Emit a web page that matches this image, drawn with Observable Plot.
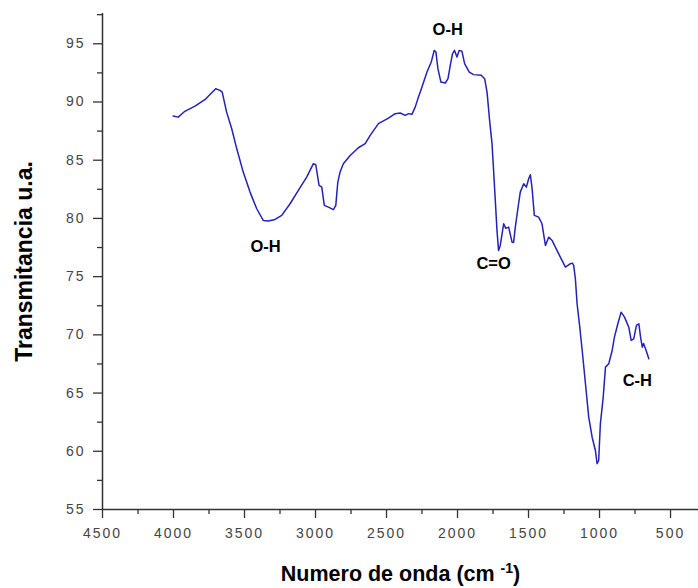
<!DOCTYPE html>
<html>
<head>
<meta charset="utf-8">
<script src="https://cdn.jsdelivr.net/npm/d3@7"></script>
<script src="https://cdn.jsdelivr.net/npm/@observablehq/plot@0.6"></script>
<style>
  html, body { margin: 0; padding: 0; background: white; }
  g[aria-label="x-axis tick label"] text,
  g[aria-label="y-axis tick label"] text { letter-spacing: 2px; }
</style>
</head>
<body>
<div id="chart"></div>
<script>
// Wavenumber (cm^-1) and transmittance (a.u.)
const wavenumber = [4002,3967,3920,3849,3779,3731,3703,3673,3657,3626,3590,3555,3509,3461,3414,3368,3332,3285,3238,3179,3121,3062,3015,2998,2975,2956,2938,2909,2874,2857,2843,2827,2804,2756,2698,2650,2615,2557,2486,2439,2404,2368,2345,2321,2298,2275,2258,2215,2185,2164,2152,2138,2117,2086,2067,2051,2035,2021,2004,1988,1969,1950,1917,1887,1833,1809,1792,1774,1757,1746,1734,1722,1711,1699,1675,1660,1640,1616,1605,1593,1570,1558,1534,1515,1499,1487,1475,1459,1429,1405,1381,1358,1334,1311,1276,1240,1205,1191,1182,1170,1158,1139,1122,1099,1076,1052,1029,1017,1006,994,974,958,935,911,895,871,848,824,794,777,759,740,723,711,699,690,676,653];
const transmittance = [88.8,88.7,89.2,89.65,90.2,90.8,91.14,91.0,90.85,89.13,87.7,86.0,83.98,82.26,80.83,79.83,79.77,79.91,80.26,81.26,82.4,83.55,84.7,84.61,82.84,82.69,81.12,80.97,80.75,81.12,83.12,83.98,84.7,85.41,86.07,86.42,87.13,88.14,88.62,89.0,89.05,88.85,89.0,88.94,89.56,90.42,91.0,92.57,93.43,94.43,94.29,92.86,91.71,91.63,92.0,93.14,94.15,94.43,93.86,94.43,94.37,93.29,92.57,92.35,92.29,92.0,90.85,88.42,86.42,84.12,81.55,78.97,77.25,77.68,79.54,79.14,79.25,77.96,77.94,79.25,81.26,82.26,82.98,82.69,83.41,83.75,82.58,80.26,80.11,79.54,77.68,78.39,78.11,77.53,76.68,75.82,76.11,76.16,75.96,74.82,72.67,70.66,68.66,65.8,62.93,61.21,60.07,58.93,59.21,62.36,64.65,67.23,67.52,68.66,69.8,70.95,71.95,71.52,70.66,69.52,69.66,70.81,70.95,69.8,68.94,69.26,68.8,67.95];

// Band annotations
const bandLabels = ["O-H", "O-H", "C=O", "C-H"];
const bandX = [3352, 2069, 1746, 734];
const bandY = [77.6, 96.24, 76.09, 66.08];

// Tick values
const xMajorTicks = [4500,4000,3500,3000,2500,2000,1500,1000,500];
const xMinorTicks = [4250,3750,3250,2750,2250,1750,1250,750];
const yMajorTicks = [55,60,65,70,75,80,85,90,95];
const yMinorTicks = [57.5,62.5,67.5,72.5,77.5,82.5,87.5,92.5,97.5];

const xTitle = "Numero de onda (cm-1)";
const yTitle = "Transmitancia u.a.";

const spectrum = wavenumber.map((w, i) => ({w, t: transmittance[i]}));
const bands = bandLabels.map((l, i) => ({l, x: bandX[i], y: bandY[i]}));

const axisColor = "#333";
const labelColor = "#444";

const chart = Plot.plot({
  width: 698,
  height: 588,
  marginLeft: 102,
  marginRight: 0,
  marginTop: 13,
  marginBottom: 79,
  style: {fontFamily: "'Liberation Sans', Arial, sans-serif", background: "white", overflow: "visible"},
  x: {domain: [4500, 303], label: null},
  y: {domain: [55, 97.6], label: null},
  marks: [
    Plot.axisX(xMajorTicks, {tickSize: 9, tickPadding: 10, fontSize: 14, fill: labelColor, stroke: axisColor, strokeWidth: 1.3, tickFormat: "d", label: null}),
    Plot.axisX(xMinorTicks, {tickSize: 5, fill: "none", stroke: axisColor, strokeWidth: 1.3, label: null}),
    Plot.axisY(yMajorTicks, {tickSize: 9, tickPadding: 8, fontSize: 14, fill: labelColor, stroke: axisColor, strokeWidth: 1.3, tickFormat: "d", label: null}),
    Plot.axisY(yMinorTicks, {tickSize: 5, fill: "none", stroke: axisColor, strokeWidth: 1.3, label: null}),
    Plot.ruleY([55], {stroke: axisColor, strokeWidth: 1.5}),
    Plot.ruleX([4500], {stroke: axisColor, strokeWidth: 1.5}),
    Plot.line(spectrum, {x: "w", y: "t", stroke: "#2323b5", strokeWidth: 1.5}),
    Plot.text(bands, {x: "x", y: "y", text: "l", fontSize: 16.5, fontWeight: "bold", fill: "black"}),
    Plot.text([yTitle], {frameAnchor: "left", dx: -78, rotate: -90, textAnchor: "middle", lineAnchor: "middle", text: d => d, fontSize: 23, fontWeight: "bold", fill: "black"}),
    Plot.text([xTitle], {frameAnchor: "bottom", dy: 65, textAnchor: "middle", lineAnchor: "middle", text: d => d, fontSize: 21.5, fontWeight: "bold", fill: "black"})
  ]
});

// Superscript for the unit in the x title
d3.select(chart).selectAll("text")
  .filter(function() { return this.textContent === xTitle; })
  .each(function() {
    const t = d3.select(this);
    t.text(null);
    t.append("tspan").text("Numero de onda (cm ");
    t.append("tspan").attr("dy", "-8").attr("font-size", 14).text("-1");
    t.append("tspan").attr("dy", "8").text(")");
  });

document.getElementById("chart").append(chart);
</script>
</body>
</html>
